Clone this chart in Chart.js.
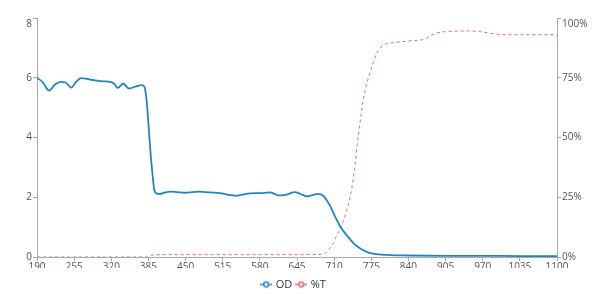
<!DOCTYPE html>
<html>
<head>
<meta charset="utf-8">
<script src="https://cdn.jsdelivr.net/npm/chart.js@4.4.1/dist/chart.umd.min.js"></script>
<style>
  html, body { margin: 0; padding: 0; background: #fff; }
  #wrap { width: 600px; height: 294px; position: relative; }
</style>
</head>
<body>
<div id="wrap"><canvas id="c" width="600" height="294"></canvas></div>
<script>
// ---- data ----
const odWavelengths = [190,200,211,222,232,240,250,258,267,278,289,305,318,325,331,341,351,362,373,378,382,386,389,392,395,399,405,414,423,436,449,462,475,492,510,523,537,550,563,580,598,605,612,627,641,652,662,672,682,691,697,703,711,720,729,738,746,755,766,778,792,808,840,905,970,1035,1100];
const odValues = [6.00,5.85,5.57,5.78,5.86,5.84,5.67,5.85,5.99,5.96,5.92,5.88,5.86,5.80,5.66,5.80,5.64,5.70,5.75,5.70,5.20,4.20,3.40,2.80,2.27,2.13,2.11,2.16,2.19,2.17,2.15,2.17,2.19,2.16,2.14,2.09,2.05,2.09,2.13,2.14,2.16,2.12,2.06,2.09,2.17,2.10,2.03,2.07,2.11,2.05,1.90,1.71,1.38,1.04,0.80,0.59,0.42,0.29,0.18,0.11,0.08,0.06,0.05,0.04,0.04,0.03,0.03];
const tWavelengths = [190,380,385,395,450,550,650,690,697,703,709,714,720,726,732,738,743,747,750,754,758,762,767,776,784,796,810,825,845,869,878,887,905,925,945,965,983,1000,1012,1050,1093,1100];
const tValues = [0,0,0.5,0.9,1.0,1.0,1.0,1.2,2.0,3.9,6.0,8.8,11.5,15,19.5,25,32,39,46.6,54,61,67,72.5,79.5,85,88.7,89.6,90,90.5,91.2,92.5,93.6,94.3,94.5,94.6,94.3,93.6,93.1,93,93,93,92.8];
const xTickLabels = [190,255,320,385,450,515,580,645,710,775,840,905,970,1035,1100];
const odTickLabels = [0,2,4,6,8];
const tTickLabels = [0,25,50,75,100];
const seriesNames = ['OD', '%T'];

const BLUE = '#2285c2';
const RED = '#dd6a6e';
const AXIS = '#aaaaaa';
const TEXT = '#555555';
const FONT = "'Open Sans', 'Liberation Sans', sans-serif";

function legendIcon(color) {
  const c = document.createElement('canvas');
  c.width = 12; c.height = 8;
  const g = c.getContext('2d');
  g.strokeStyle = color; g.lineWidth = 1.5;
  g.beginPath(); g.moveTo(0, 4); g.lineTo(12, 4); g.stroke();
  g.fillStyle = '#fff';
  g.beginPath(); g.arc(6, 4, 2.4, 0, Math.PI * 2); g.fill(); g.stroke();
  return c;
}
const icons = [legendIcon(BLUE), legendIcon(RED)];

function tickSetter(list) {
  return function (scale) { scale.ticks = list.map(v => ({ value: v })); };
}

const legendShift = {
  id: 'legendShift',
  afterLayout(chart) {
    const lg = chart.legend;
    if (!lg) return;
    lg.top += 6; lg.bottom += 6;
    lg.left -= 6; lg.right -= 6;
    if (lg.legendHitBoxes) lg.legendHitBoxes.forEach(b => { b.top += 6; b.left -= 6; });
  }
};

new Chart(document.getElementById('c'), {
  type: 'line',
  data: {
    datasets: [
      {
        label: seriesNames[0],
        data: odWavelengths.map((x, i) => ({ x: x, y: odValues[i] })),
        borderColor: BLUE, backgroundColor: BLUE,
        borderWidth: 1.8, pointRadius: 0,
        cubicInterpolationMode: 'monotone',
        yAxisID: 'y'
      },
      {
        label: seriesNames[1],
        data: tWavelengths.map((x, i) => ({ x: x, y: tValues[i] })),
        borderColor: RED, backgroundColor: RED,
        borderWidth: 1, borderDash: [3, 3], pointRadius: 0,
        cubicInterpolationMode: 'monotone',
        yAxisID: 'y2'
      }
    ]
  },
  plugins: [legendShift],
  options: {
    responsive: false,
    animation: false,
    devicePixelRatio: 1,
    layout: { padding: { top: 18, left: 0, right: 0, bottom: 0 } },
    plugins: {
      tooltip: { enabled: false },
      legend: {
        position: 'bottom',
        labels: {
          usePointStyle: true,
          pointStyleWidth: 8,
          padding: 5,
          color: '#333',
          font: { family: FONT, size: 11 },
          generateLabels: function (chart) {
            return chart.data.datasets.map((ds, i) => ({
              text: ds.label,
              fillStyle: ds.borderColor,
              strokeStyle: ds.borderColor,
              pointStyle: icons[i],
              lineWidth: 0,
              hidden: false,
              datasetIndex: i,
              fontColor: '#333'
            }));
          }
        }
      }
    },
    scales: {
      x: {
        type: 'linear',
        min: 190, max: 1100,
        afterBuildTicks: tickSetter(xTickLabels),
        afterFit: function (s) { s.height = 11; },
        grid: { drawOnChartArea: false, drawTicks: true, tickLength: 4, color: AXIS },
        border: { display: true, color: AXIS, width: 1 },
        ticks: {
          color: TEXT, font: { family: FONT, size: 10 }, padding: 0, maxRotation: 0, autoSkip: false,
          callback: function (v) { return String(v); }
        }
      },
      y: {
        type: 'linear', position: 'left',
        min: 0, max: 8,
        afterBuildTicks: tickSetter(odTickLabels),
        afterFit: function (s) { s.width = 37; },
        grid: { drawOnChartArea: false, drawTicks: true, tickLength: 4, color: AXIS },
        border: { display: true, color: AXIS, width: 1 },
        ticks: {
          color: TEXT, font: { family: FONT, size: 10 }, padding: 1,
          callback: function (v) { return v === 8 ? ['', String(v)] : String(v); }
        }
      },
      y2: {
        type: 'linear', position: 'right',
        min: 0, max: 100,
        afterBuildTicks: tickSetter(tTickLabels),
        afterFit: function (s) { s.width = 43; },
        grid: { drawOnChartArea: false, drawTicks: true, tickLength: 4, color: AXIS },
        border: { display: true, color: AXIS, width: 1 },
        ticks: {
          color: TEXT, font: { family: FONT, size: 10 }, padding: 1,
          callback: function (v) { return v === 100 ? ['', v + '%'] : v + '%'; }
        }
      }
    }
  }
});
</script>
</body>
</html>
